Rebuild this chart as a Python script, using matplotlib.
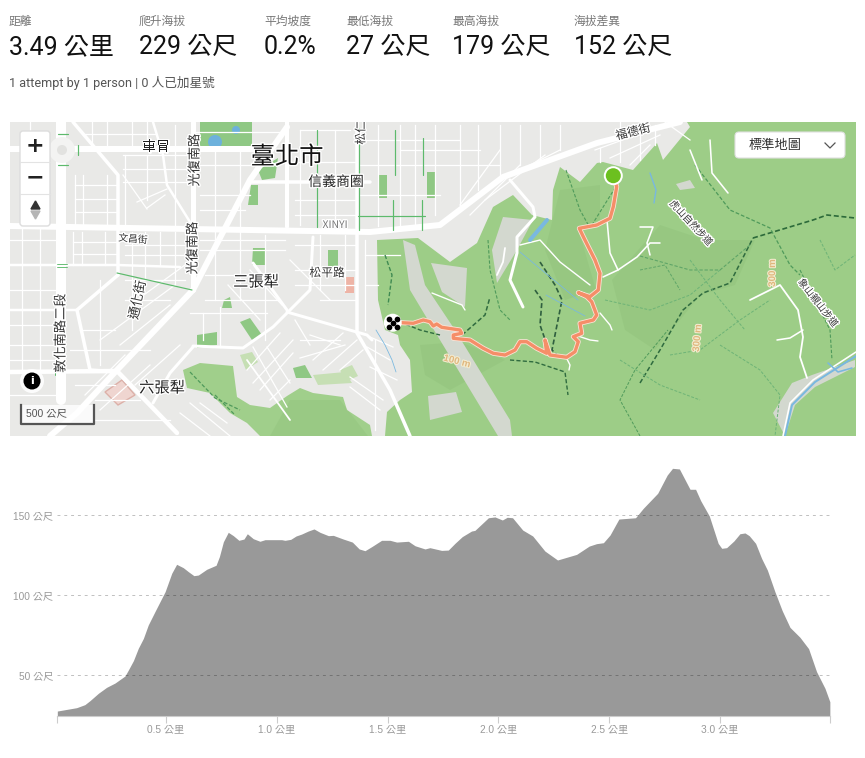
import matplotlib
matplotlib.use("Agg")
import matplotlib.pyplot as plt
from matplotlib.patches import Polygon, FancyBboxPatch, Rectangle, Circle
import matplotlib.patheffects as pe

CJK = ["Roboto", "Noto Sans CJK TC", "DejaVu Sans"]
AXIS_FONT = ["Liberation Sans", "Noto Sans CJK TC"]
plt.rcParams["font.family"] = CJK

# header stats
stat_labels = ["距離", "爬升海拔", "平均坡度", "最低海拔", "最高海拔", "海拔差異"]
stat_values = ["3.49 公里", "229 公尺", "0.2%", "27 公尺", "179 公尺", "152 公尺"]
stat_x = [9, 139, 264, 346, 452, 574]
sub_line = "1 attempt by 1 person | 0 人已加星號"

# elevation profile
dist_km = [0.0096, 0.097, 0.134, 0.157, 0.195, 0.232, 0.270, 0.315, 0.330, 0.353, 0.375, 0.398,
           0.420, 0.450, 0.496, 0.526, 0.548, 0.578, 0.601, 0.626, 0.646, 0.684, 0.726, 0.741,
           0.759, 0.781, 0.804, 0.829, 0.852, 0.867, 0.894, 0.924, 0.947, 1.022, 1.037, 1.063,
           1.087, 1.112, 1.142, 1.168, 1.195, 1.233, 1.255, 1.300, 1.341, 1.372, 1.398, 1.428,
           1.473, 1.511, 1.541, 1.594, 1.624, 1.669, 1.691, 1.744, 1.774, 1.804, 1.837, 1.879,
           1.894, 1.925, 1.955, 1.985, 2.018, 2.040, 2.064, 2.110, 2.155, 2.210, 2.267, 2.353,
           2.410, 2.443, 2.474, 2.504, 2.544, 2.619, 2.654, 2.719, 2.762, 2.786, 2.817, 2.865,
           2.890, 2.913, 2.952, 2.992, 3.008, 3.030, 3.063, 3.090, 3.113, 3.132, 3.161, 3.188,
           3.214, 3.248, 3.281, 3.316, 3.361, 3.400, 3.436, 3.474, 3.496]
elev_m = [27.7, 29.8, 31.7, 34.2, 38.8, 42.5, 45.2, 49.6, 53.3, 59.2, 66.9, 73.1,
          81.5, 89.8, 102.3, 113.8, 119.4, 117.3, 114.8, 112.3, 112.7, 116.3, 118.8, 124.2,
          133.5, 139.4, 137.3, 134.4, 135.2, 138.5, 135.4, 133.8, 134.8, 134.8, 134.4, 135.0,
          137.1, 138.3, 140.2, 141.5, 139.4, 137.3, 137.5, 135.2, 133.3, 129.0, 127.9, 130.4,
          134.4, 134.4, 133.3, 133.8, 131.0, 129.0, 129.8, 128.1, 128.3, 132.5, 136.7, 140.2,
          140.6, 144.6, 148.5, 149.0, 147.1, 148.8, 148.5, 140.8, 137.1, 127.7, 122.1, 125.6,
          130.8, 132.3, 132.9, 137.7, 147.7, 148.5, 154.4, 163.8, 175.2, 179.4, 179.0, 166.3,
          166.3, 159.2, 149.6, 132.5, 129.4, 129.8, 134.0, 138.5, 139.0, 137.3, 132.5, 123.1,
          115.8, 102.3, 90.4, 80.0, 73.8, 66.7, 52.3, 41.9, 33.5]
y_ticks = [50, 100, 150]
y_tick_labels = ["50 公尺", "100 公尺", "150 公尺"]
x_ticks = [0.5, 1.0, 1.5, 2.0, 2.5, 3.0]
x_tick_labels = ["0.5 公里", "1.0 公里", "1.5 公里", "2.0 公里", "2.5 公里", "3.0 公里"]

# map geometry, in map units
route_x = [401.7, 413.3, 423.3, 430, 433.3, 436.7, 441.7, 460, 461.7, 453.3, 453.3, 470, 483.3, 493.3,
           505, 515, 520, 526.7, 536.7, 546.7, 545, 550, 566.7, 575, 578.3, 573.3, 581.7, 580, 593.3,
           596.7, 591.7, 586.7, 578.3, 590, 598.3, 600, 595, 588.3, 583.3, 579.3, 596.7, 610, 613.3,
           616.7, 613.3]
route_y = [322.7, 323.3, 320, 321.7, 326, 324, 327.3, 330, 333.3, 335, 338.3, 340, 348.3, 353.3,
           355, 350, 341.7, 341.7, 348.3, 353.3, 340, 355, 357.3, 351.7, 341.7, 336.7, 333.3, 323.3, 320,
           315, 301.7, 296.7, 292.7, 296.7, 290, 273.3, 260, 246.7, 236.7, 228.3, 225, 218.3, 206.7,
           186.7, 176]

main_park = [(560, 167), (580, 182), (597, 163), (603, 162), (633, 170), (657, 143), (663, 160), (690, 127),
             (687, 122), (856, 122), (856, 436), (385, 436), (387, 412), (400, 400), (412, 392), (410, 360),
             (400, 345), (398, 335), (385, 330), (378, 300), (377, 240), (418, 238), (450, 262), (477, 243),
             (493, 207), (513, 195), (532, 215), (552, 220), (553, 190)]
west_parks = [
    [(183, 370), (200, 363), (233, 366), (237, 397), (250, 405), (270, 408), (287, 396), (300, 388), (313, 393),
     (343, 397), (347, 410), (370, 425), (372, 436), (260, 436), (247, 423), (230, 413), (210, 393), (187, 388)],
]
city_parks = [
    [(200, 122), (252, 122), (252, 148), (200, 148)],
    [(258, 170), (278, 158), (275, 178), (262, 180)],
    [(251, 185), (258, 185), (258, 205), (248, 205)],
    [(253, 248), (266, 248), (266, 265), (252, 265)],
    [(328, 250), (338, 250), (338, 268), (328, 268)],
    [(197, 348), (197, 335), (217, 332), (217, 345)],
    [(240, 322), (250, 318), (262, 335), (252, 340)],
    [(224, 300), (230, 297), (232, 308), (222, 308)],
    [(293, 368), (305, 365), (312, 378), (296, 378)],
    [(379, 175), (387, 175), (387, 198), (379, 198)],
    [(427, 172), (435, 172), (435, 198), (427, 198)],
]
light_parks = [
    [(240, 355), (252, 352), (258, 362), (246, 370)],
    [(313, 375), (345, 372), (352, 383), (318, 385)],
    [(340, 370), (352, 365), (358, 376), (345, 382)],
]
hillshade = [
    [(660, 225), (705, 240), (755, 240), (735, 285), (700, 295), (680, 320), (655, 350), (625, 330), (612, 280)],
    [(560, 190), (600, 185), (600, 220), (578, 228), (596, 290), (565, 300), (545, 250)],
    [(420, 345), (460, 342), (505, 360), (450, 390), (425, 375)],
    [(290, 400), (340, 400), (368, 436), (270, 436)],
]
grey_patches = [
    [(503, 217), (533, 220), (517, 250), (497, 283), (492, 250)],
    [(431, 263), (467, 268), (465, 307), (442, 292)],
    [(773, 413), (792, 383), (812, 375), (855, 360), (855, 367), (815, 387), (795, 405), (785, 436)],
    [(676, 184), (690, 180), (695, 188), (680, 190)],
    [(403, 240), (415, 245), (425, 285), (455, 330), (510, 420), (512, 436), (498, 436), (440, 340), (410, 290)],
    [(428, 396), (456, 392), (462, 412), (430, 420)],
]
main_roads = [
    ([10, 250, 262], [149, 149, 150], 6),
    ([61, 61], [122, 400], 10),
    ([10, 370, 440, 503, 597, 680], [226, 232, 225, 177, 143, 122], 6),
    ([287, 250, 193, 117, 77, 50], [127, 180, 290, 370, 413, 436], 6),
    ([10, 117, 177], [372, 371, 433], 4.5),
    ([193, 193], [122, 290], 5),
    ([250, 370], [182, 182], 3.5),
    ([287, 287], [122, 227], 4),
    ([357, 357, 390, 410], [122, 333, 390, 436], 3.5),
    ([73, 118, 118], [122, 175, 275], 3.5),
    ([118, 77, 90, 117], [275, 310, 370, 372], 3.5),
    ([153, 163, 167, 190], [122, 155, 185, 222], 2.5),
    ([10, 117, 180], [265, 265, 267], 2.5),
    ([10, 77], [310, 310], 2.5),
    ([287, 367, 372], [312, 335, 340], 3),
    ([193, 243, 273, 310, 313], [346, 348, 327, 290, 237], 3),
    ([253, 287], [263, 310], 3),
    ([247, 290], [360, 420], 1.8),
    ([193, 170, 153], [347, 373, 403], 3),
    ([510, 533, 535, 517, 517, 510, 523], [180, 207, 217, 237, 253, 280, 307], 3),
]
minor_h = [(132, 193, 287), (134, 85, 155), (155, 123, 187), (169, 123, 187), (182, 123, 187), (185, 75, 118),
           (199, 75, 118), (212, 75, 118), (165, 200, 250), (195, 200, 250), (210, 200, 245), (242, 73, 117),
           (254, 73, 117), (245, 125, 190), (255, 125, 190), (280, 125, 185), (300, 125, 170), (290, 10, 57),
           (330, 80, 115), (345, 10, 57), (350, 70, 150), (250, 200, 285), (240, 200, 285), (275, 205, 250),
           (300, 205, 280), (313, 190, 267), (245, 295, 355), (200, 295, 355), (162, 295, 355), (270, 295, 355),
           (300, 320, 355), (285, 295, 355), (215, 295, 355), (165, 360, 500), (195, 360, 440), (150, 400, 480),
           (130, 300, 350), (140, 360, 460), (255, 365, 400), (285, 365, 378), (395, 10, 55), (420, 90, 170),
           (340, 300, 340), (240, 10, 57), (325, 10, 57), (360, 10, 57), (385, 75, 115), (400, 95, 140)]
minor_v = [(30, 122, 226), (92, 122, 147), (107, 122, 147), (132, 122, 147), (147, 122, 147), (75, 175, 226),
           (83, 175, 226), (107, 175, 226), (125, 155, 226), (147, 155, 200), (175, 125, 226), (215, 150, 226),
           (240, 150, 226), (22, 228, 370), (40, 228, 370), (73, 232, 265), (82, 232, 265), (105, 232, 265),
           (132, 232, 330), (145, 232, 280), (160, 232, 265), (175, 232, 285), (100, 280, 365), (215, 232, 300),
           (240, 232, 300), (265, 235, 340), (300, 130, 225), (320, 235, 290), (335, 130, 225), (345, 235, 290),
           (378, 125, 226), (400, 125, 225), (415, 125, 225), (435, 125, 215), (460, 125, 205), (478, 125, 190),
           (365, 240, 330), (375, 340, 430), (203, 313, 340), (220, 307, 347), (500, 125, 175), (520, 125, 165),
           (540, 125, 160), (560, 125, 150), (620, 122, 162), (600, 148, 162), (640, 122, 160), (655, 125, 145)]
minor_diag = [
    ([137, 167], [202, 189]), ([123, 147], [175, 209]), ([147, 165], [208, 195]), ([253, 287], [347, 407]),
    ([267, 290], [347, 383]), ([253, 293], [383, 340]), ([260, 293], [390, 353]), ([270, 290], [400, 380]),
    ([247, 280], [370, 333]), ([313, 343], [360, 333]), ([323, 357], [370, 340]), ([340, 363], [370, 350]),
    ([350, 383], [377, 400]), ([350, 380], [387, 410]), ([370, 393], [337, 347]), ([367, 390], [347, 360]),
    ([370, 397], [367, 380]), ([190, 230], [403, 436]), ([180, 210], [413, 436]), ([200, 227], [403, 423]),
    ([295, 310], [320, 345]), ([310, 340], [335, 345]), ([300, 345], [358, 345]), ([130, 185], [305, 265]),
    ([100, 175], [340, 285]), ([120, 170], [345, 305]), ([85, 125], [395, 355]), ([100, 150], [410, 365]),
    ([135, 180], [385, 345]), ([228, 260], [285, 320]), ([250, 282], [270, 305]), ([290, 330], [260, 300]),
    ([595, 650], [150, 130]), ([610, 660], [158, 135]), ([630, 650], [165, 145]), ([665, 690], [122, 140]),
    ([460, 500], [205, 150]), ([470, 520], [215, 165]), ([485, 545], [200, 155]), ([520, 560], [170, 150]),
]
park_white = [
    ([750, 780, 798, 803, 800, 807], [300, 285, 310, 337, 357, 378], 1.8),
    ([777, 790, 803], [340, 338, 330], 1.6),
    ([690, 702], [150, 180], 1.6),
    ([710, 712, 728], [140, 173, 193], 1.6),
    ([607, 610, 618, 603], [220, 253, 270, 277], 1.6),
    ([618, 637, 650, 660], [270, 257, 243, 243], 1.6),
    ([640, 653, 647, 650], [227, 227, 243, 255], 1.6),
    ([505, 503, 497], [248, 262, 275], 1.8),
    ([432, 462, 465], [293, 305, 310], 1.4),
    ([600, 610, 612], [313, 325, 330], 1.4),
    ([575, 590, 598], [335, 340, 341], 1.4),
    ([566, 570, 569], [357, 365, 370], 1.4),
    ([520, 540, 560, 590], [245, 240, 262, 285], 1.4),
    ([783, 790, 813, 856], [436, 403, 380, 352], 1.6),
]
water = [
    ([785, 792, 815, 856], [436, 405, 382, 356], 2),
    ([828, 838, 852], [363, 372, 368], 1.6),
    ([530, 547], [240, 220], 4),
    ([650, 656, 654], [173, 190, 203], 1.4),
    ([520, 578], [252, 300], 0.8),
    ([546, 585], [295, 316], 0.8),
    ([376, 385, 392, 396], [330, 345, 360, 372], 0.8),
]
trails = [
    ([640, 660, 683, 703, 730, 753], [383, 350, 310, 293, 283, 238], "#2f6b3f", 1.1),
    ([753, 773, 813, 827, 855], [238, 232, 220, 215, 218], "#2c6a3a", 1.2),
    ([695, 730, 770, 790, 800], [165, 210, 228, 265, 275], "#4f9a5b", 0.9),
    ([800, 830, 832], [270, 330, 360], "#4f9a5b", 0.8),
    ([640, 690, 720, 750], [256, 270, 270, 245], "#5fa568", 0.8),
    ([640, 665, 680], [270, 265, 290], "#5fa568", 0.7),
    ([566, 580, 590, 620], [170, 210, 228, 180], "#4f9a5b", 0.8),
    ([488, 490, 500, 510], [240, 270, 310, 320], "#4f9a5b", 0.8),
    ([400, 420, 440], [322, 330, 335], "#2f6b3f", 1.0),
    ([462, 485, 490], [335, 315, 297], "#2f6b3f", 1.1),
    ([540, 555, 562, 552, 560], [262, 285, 300, 350, 358], "#2f5f3f", 1.2),
    ([535, 542, 540, 547], [290, 300, 325, 345], "#2f5f3f", 1.2),
    ([510, 535, 565, 568], [360, 362, 372, 395], "#2f6b3f", 1.0),
    ([640, 620, 635, 668], [436, 400, 370, 330], "#4f9a5b", 0.7),
    ([670, 700, 740, 770], [355, 350, 320, 300], "#6db377", 0.7),
    ([690, 720, 745], [260, 300, 330], "#6db377", 0.7),
    ([820, 835, 855], [240, 270, 255], "#6db377", 0.7),
    ([385, 392, 388], [255, 275, 305], "#3f8a52", 1.0),
    ([605, 650, 690, 720], [300, 310, 295, 270], "#6db377", 0.7),
    ([620, 660, 700], [360, 385, 400], "#6db377", 0.7),
    ([720, 760, 780, 775], [345, 370, 395, 436], "#6db377", 0.7),
    ([190, 215, 240], [372, 398, 410], "#4f9a5b", 0.9),
    ([215, 235], [395, 415], "#4f9a5b", 0.9),
]
bike_lanes = [
    ([317, 317], [130, 227], 1.2), ([359, 359], [128, 230], 1.2), ([117, 192], [273, 290], 1.2),
    ([358, 425], [216, 216], 1.2), ([395, 395], [130, 175], 1.2), ([423, 423], [138, 175], 1.2),
    ([393, 393], [200, 230], 1.2), ([422, 422], [200, 230], 1.2), ([58, 68], [134, 134], 1.2),
    ([58, 68], [165, 165], 1.2), ([78, 78], [145, 155], 1.2), ([57, 67], [264, 264], 0.9),
    ([57, 67], [266.5, 266.5], 0.9), ([55, 55], [370, 375], 1.0),
]
map_labels = [
    ("臺北市", 287, 157, 17.5, 0, "#111111"),
    ("信義商圈", 336, 182, 10, 0, "#222222"),
    ("車冒", 156, 147, 10, 0, "#222222"),
    ("光復南路", 195, 160, 9.5, 90, "#333333"),
    ("光復南路", 193, 248, 9.5, 90, "#333333"),
    ("敦化南路二段", 61, 333, 9.5, 90, "#333333"),
    ("通化街", 138, 300, 9.5, 78, "#333333"),
    ("文昌街", 133, 239, 7, -5, "#333333"),
    ("三張犁", 256, 282, 11, 0, "#222222"),
    ("松平路", 327, 273, 8.5, 0, "#333333"),
    ("六張犁", 162, 388, 11, 0, "#222222"),
    ("XINYI", 335, 225, 7.5, 0, "#777777"),
    ("松仁路", 361, 127, 8.5, 90, "#333333"),
    ("福德街", 633, 132, 8.5, 14, "#333333"),
    ("虎山自然步道", 691, 223, 7, -47, "#333333"),
    ("象山親山步道", 818, 303, 7, -52, "#333333"),
]
contour_labels = [("300 m", 772, 273, 90), ("300 m", 697, 338, 85), ("100 m", 457, 361, -15)]

fig = plt.figure(figsize=(8.65, 7.58), dpi=100, facecolor="white")
W, H = 865.0, 758.0


def px_axes(x0, y0, x1, y1):
    return fig.add_axes([x0 / W, 1 - y1 / H, (x1 - x0) / W, (y1 - y0) / H])


def lines(ax, items, color, z, ls="-"):
    for xs, ys, w in items:
        ax.plot(xs, ys, color=color, lw=w * 0.72, ls=ls, zorder=z, solid_capstyle="round")


# header
for lab, val, x in zip(stat_labels, stat_values, stat_x):
    fig.text(x / W, 1 - 21 / H, lab, fontsize=8.5, color="#777777", va="center")
    fig.text(x / W, 1 - 47 / H, val, fontsize=18, color="#111111", va="center")
fig.text(9 / W, 1 - 83 / H, sub_line, fontsize=9.1, color="#555555", va="center")

# map
m = px_axes(10, 122, 856, 436)
m.set_xlim(10, 856)
m.set_ylim(436, 122)
m.axis("off")
m.add_patch(Rectangle((10, 122), 846, 314, color="#e9e9e7", zorder=0))
m.add_patch(Polygon(main_park, closed=True, color="#9dcd87", lw=0, zorder=1))
for poly in west_parks:
    m.add_patch(Polygon(poly, closed=True, color="#a0cf8b", lw=0, zorder=1))
for poly in hillshade:
    m.add_patch(Polygon(poly, closed=True, color="#6fa45c", alpha=0.13, lw=0, zorder=1.1))
for poly in grey_patches:
    m.add_patch(Polygon(poly, closed=True, color="#d3d8cf", lw=0, zorder=1.2))
for poly in city_parks:
    m.add_patch(Polygon(poly, closed=True, color="#8fc884", lw=0, zorder=1.3))
for poly in light_parks:
    m.add_patch(Polygon(poly, closed=True, color="#c6dfb4", lw=0, zorder=1.3))
m.add_patch(Circle((215, 142), 7, color="#6db1dc", lw=0, zorder=1.4))
m.add_patch(Circle((236, 130), 4, color="#6db1dc", lw=0, zorder=1.4))
m.add_patch(Rectangle((345, 277), 9, 16, color="#eeb4a6", lw=0, zorder=1.4))
m.add_patch(Polygon([(105, 392), (122, 380), (135, 395), (118, 405)], closed=True, fc="#efd5d0", ec="#dcb0a8", lw=1, zorder=1.4))

for y, x0, x1 in minor_h:
    m.plot([x0, x1], [y, y], color="white", lw=0.9, zorder=2)
for x, y0, y1 in minor_v:
    m.plot([x, x], [y0, y1], color="white", lw=0.9, zorder=2)
for xs, ys in minor_diag:
    m.plot(xs, ys, color="white", lw=0.9, zorder=2)
lines(m, main_roads, "white", 3)
lines(m, park_white, "white", 3)
lines(m, water, "#79b8e0", 3.2)
for xs, ys, c, w in trails:
    m.plot(xs, ys, color=c, lw=w, ls=(0, (3, 1.6)), zorder=2.8)
m.add_patch(Circle((62, 150), 13, color="#f3f3f2", lw=0, zorder=3.4))
m.add_patch(Circle((62, 150), 5, color="#e2e2e0", lw=0, zorder=3.45))
lines(m, bike_lanes, "#5dba6c", 3.5)

halo = [pe.withStroke(linewidth=2, foreground="white")]
for txt, x, y, size, rot, col in map_labels:
    t = m.text(x, y, txt, fontsize=size, rotation=rot, color=col, ha="center", va="center",
               rotation_mode="anchor", zorder=5, clip_on=True, family=["Noto Sans CJK TC", "DejaVu Sans"])
    t.set_path_effects(halo)
for txt, x, y, rot in contour_labels:
    t = m.text(x, y, txt, fontsize=7, rotation=rot, color="#e0b77e", ha="center", va="center",
               rotation_mode="anchor", zorder=5, family=["Liberation Sans"], weight="bold")
    t.set_path_effects([pe.withStroke(linewidth=1.5, foreground="#f3ecd0")])

# route
m.plot(route_x, route_y, color="#fbe3d6", lw=3.6, zorder=6, solid_joinstyle="round")
m.plot(route_x, route_y, color="#f58e68", lw=2.4, zorder=6.1, solid_joinstyle="round")
m.add_patch(Circle((613.3, 175.7), 9.5, color="white", lw=0, zorder=7))
m.add_patch(Circle((613.3, 175.7), 7.5, color="#6cc01f", lw=0, zorder=7.1))
m.add_patch(Circle((392.7, 322.7), 9, color="white", lw=0, zorder=7))
m.scatter([388.7, 396.7, 392.7, 388.7, 396.7], [318.7, 318.7, 322.7, 326.7, 326.7], marker="o", s=17, color="black", lw=0, zorder=7.1)

# map controls
m.add_patch(FancyBboxPatch((20, 131), 30, 95, boxstyle="round,pad=0,rounding_size=3", fc="white", ec="#dddddd", lw=1, zorder=8))
m.plot([20, 50], [162, 162], color="#e3e3e3", lw=0.8, zorder=9)
m.plot([20, 50], [194, 194], color="#e3e3e3", lw=0.8, zorder=9)
m.text(35, 146, "+", fontsize=16, weight="bold", color="#222222", ha="center", va="center", zorder=9, family=["DejaVu Sans"])
m.text(35, 177, "−", fontsize=16, weight="bold", color="#222222", ha="center", va="center", zorder=9, family=["DejaVu Sans"])
m.add_patch(Polygon([(31, 209), (40, 209), (35.5, 201)], closed=True, color="#333333", zorder=9))
m.add_patch(Polygon([(31, 211), (40, 211), (35.5, 219)], closed=True, color="#b5b5b5", zorder=9))
m.add_patch(Circle((32, 381), 12, color="white", alpha=0.9, lw=0, zorder=8))
m.add_patch(Circle((32, 381), 8.5, color="black", lw=0, zorder=9))
m.text(32, 381, "i", fontsize=8, weight="bold", color="white", ha="center", va="center", zorder=10, family=["DejaVu Sans"])
m.add_patch(Rectangle((21, 405), 74, 19, fc="white", alpha=0.8, lw=0, zorder=8))
m.plot([21, 21, 94, 94], [405, 424, 424, 405], color="#555555", lw=1.6, zorder=9)
m.text(26, 413, "500 公尺", fontsize=7.5, color="#555555", va="center", zorder=10, family=AXIS_FONT)
m.add_patch(FancyBboxPatch((735, 132), 110, 26, boxstyle="round,pad=0,rounding_size=4", fc="white", ec="#e0e0e0", lw=0.8, zorder=8))
m.text(775, 145, "標準地圖", fontsize=9.5, color="#333333", ha="center", va="center", zorder=9, family=["Noto Sans CJK TC"])
m.plot([825, 830, 835], [143, 148, 143], color="#555555", lw=0.9, zorder=9)

# elevation chart
xscale_end = 3.498
ax = px_axes(57.3, 460, 830.3, 716)
ax.fill_between(dist_km, elev_m, 24.6, color="#999999", lw=0, zorder=2)
ax.set_xlim(0.0095, xscale_end)
ax.set_ylim(24.6, 184.6)
for s in ["top", "right", "left"]:
    ax.spines[s].set_visible(False)
ax.spines["bottom"].set_color("#cccccc")
ax.set_yticks(y_ticks, y_tick_labels, fontsize=7.3, color="#999999", family=AXIS_FONT)
ax.set_xticks([0.0095] + x_ticks + [xscale_end], [""] + x_tick_labels + [""], fontsize=7.3, color="#999999", family=AXIS_FONT)
ax.tick_params(axis="y", length=0, pad=3)
ax.tick_params(axis="x", length=5, width=0.8, color="#cccccc", pad=1)
ax.grid(axis="y", color="black", lw=0.7, ls=(0, (3, 4)), alpha=0.25, zorder=3)
ax.set_axisbelow(False)
ax.xaxis.grid(False)

fig.savefig("out.png", dpi=100, facecolor="white")
